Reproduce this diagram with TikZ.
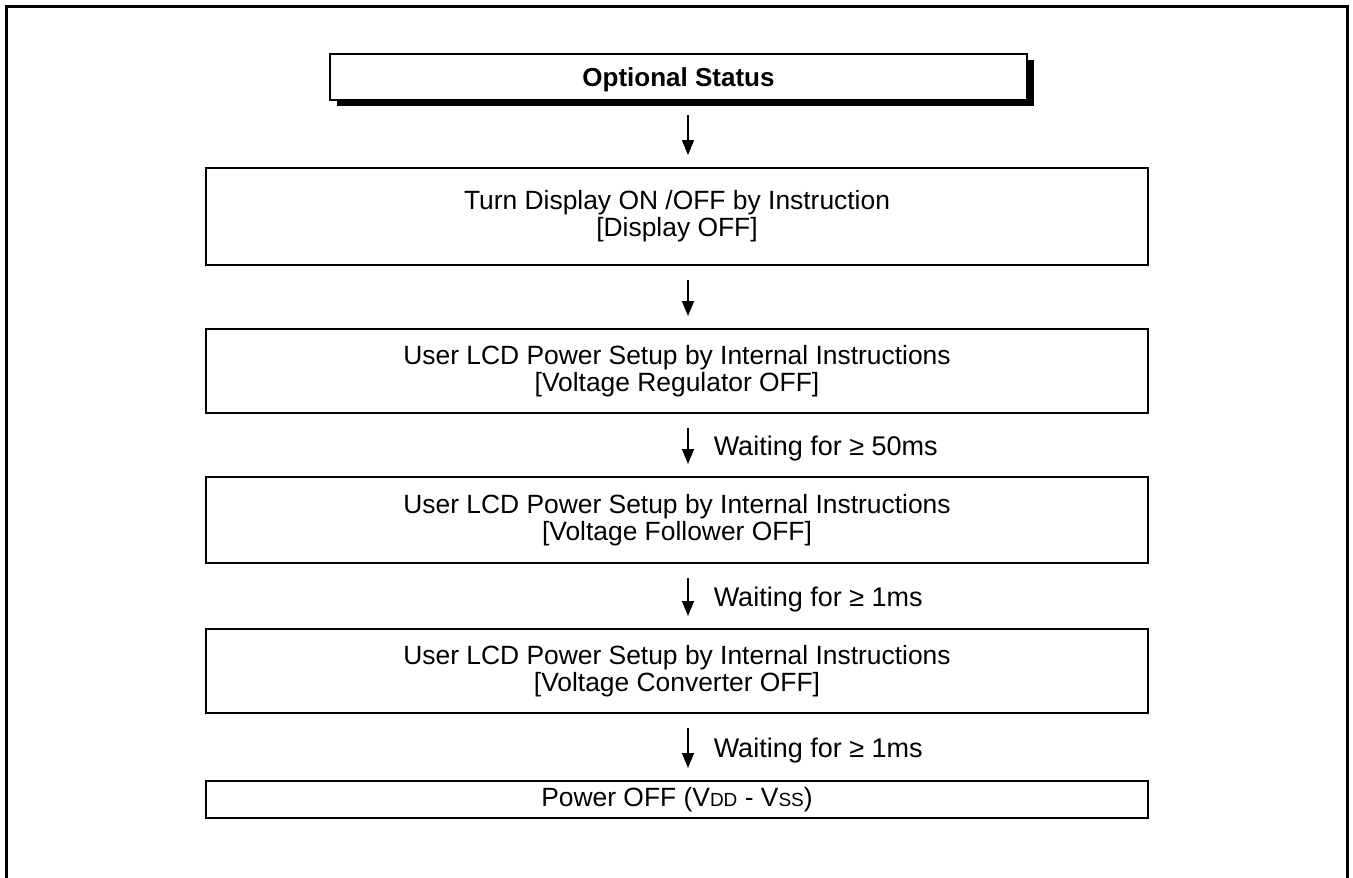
\documentclass[tikz,border=0pt]{standalone}
\usepackage{fontspec}
\setmainfont{Liberation Sans}
\usetikzlibrary{arrows.meta,calc}
\begin{document}
\begin{tikzpicture}[x=1pt,y=-1pt,
  every node/.style={font=\fontsize{26.4}{27}\selectfont},
  stepbox/.style={draw,line width=2pt,minimum width=942pt,inner sep=0pt,align=center,fill=white},
  arr/.style={line width=1.5pt,-{Triangle[length=15pt,width=12pt]},shorten <=14pt,shorten >=12pt},
  waitlbl/.style={anchor=west,xshift=22pt,yshift=-3.5pt,inner sep=3pt,font=\fontsize{27}{28}\selectfont}]
\useasboundingbox (0,0) rectangle (1353,878);
\draw[line width=3pt] (6,878) -- (6,6) -- (1347,6) -- (1347,878);
% top box with shadow
\fill (336.5,60) rectangle (1034,106);
\node[draw,line width=2pt,fill=white,minimum width=697pt,minimum height=46pt,inner sep=0pt] (top) at (678.5,77) {};
\node[font=\fontsize{26}{28}\selectfont\bfseries,inner sep=0pt] (toptxt) at ($(top.center)+(0,3)$) {Optional Status};
\node[stepbox,minimum height=97pt] (b2) at (677,216.5) {Turn Display ON /OFF by Instruction\\[0pt][Display OFF]};
\node[stepbox,minimum height=84pt] (b3) at (677,371) {User LCD Power Setup by Internal Instructions\\[0pt][Voltage Regulator OFF]};
\node[stepbox,minimum height=86pt] (b4) at (677,520) {User LCD Power Setup by Internal Instructions\\[0pt][Voltage Follower OFF]};
\node[stepbox,minimum height=84pt] (b5) at (677,671) {User LCD Power Setup by Internal Instructions\\[0pt][Voltage Converter OFF]};
\node[stepbox,minimum height=37pt] (b6) at (677,799.5) {Power OFF (V{\fontsize{19}{19}\selectfont DD} - V{\fontsize{19}{19}\selectfont SS})};
\coordinate (ax) at (688,0);
\draw[arr] (top.south -| ax) -- (b2.north -| ax);
\draw[arr] (b2.south -| ax) -- (b3.north -| ax);
\draw[arr] (b3.south -| ax) -- node[waitlbl]{Waiting for ≥ 50ms} (b4.north -| ax);
\draw[arr] (b4.south -| ax) -- node[waitlbl]{Waiting for ≥ 1ms} (b5.north -| ax);
\draw[arr] (b5.south -| ax) -- node[waitlbl]{Waiting for ≥ 1ms} (b6.north -| ax);
\end{tikzpicture}
\end{document}
